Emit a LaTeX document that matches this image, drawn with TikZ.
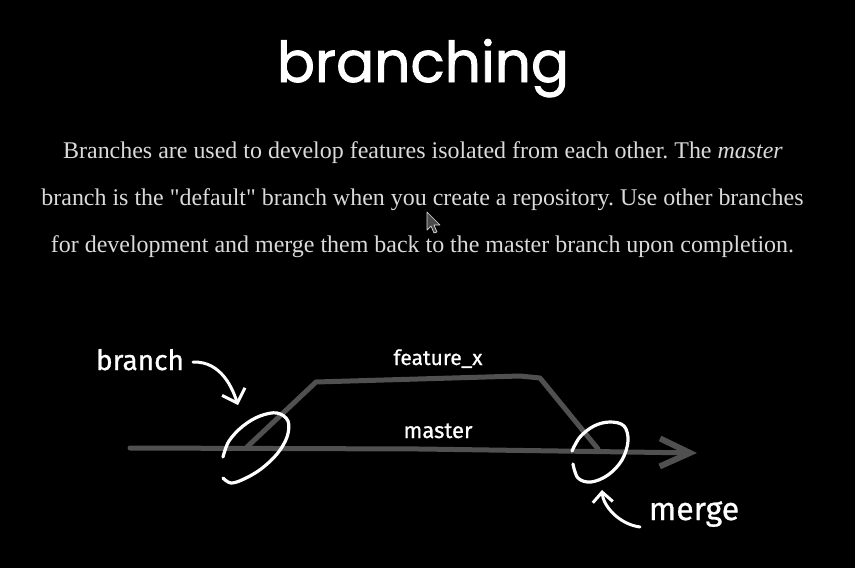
\documentclass[tikz,border=0pt]{standalone}
\usepackage{fontspec}
\setmainfont{Liberation Serif}
\newfontfamily\titlefont{Poppins}[FakeBold=1.5]
\newfontfamily\handfont{Fira Sans}[FakeBold=0.8]
\usetikzlibrary{arrows.meta}
\definecolor{bodytext}{HTML}{DADADA}
\definecolor{linegray}{HTML}{505050}
\definecolor{cursorgray}{HTML}{4A4A4A}
\tikzset{
  title/.style={text=white, inner sep=0pt, anchor=base, font=\titlefont\fontsize{56.5}{60}\selectfont},
  para/.style={text=bodytext, inner sep=0pt, anchor=base, font=\frenchspacing\fontsize{23.95}{26}\selectfont},
  hand/.style={text=white, inner sep=0pt, anchor=base, font=\handfont},
  grayline/.style={draw=linegray, line width=5pt, line cap=round, line join=round},
  whiteline/.style={draw=white, line width=3pt, line cap=round, line join=round},
  loop/.style={whiteline, line width=3.2pt},
}
\begin{document}
\begin{tikzpicture}[x=1pt,y=-1pt]
\fill[black] (0,0) rectangle (855,568);
\useasboundingbox (0,0) rectangle (855,568);

% title and paragraph
\node[title] (title) at (423,82) {branching};
\node[para] (p1) at (423,158) {Branches are used to develop features isolated from each other. The \textit{master}};
\node[para] (p2) at (422.5,205) {branch is the \textquotedbl default\textquotedbl{} branch when you create a repository. Use other branches};
\node[para] (p3) at (422.5,252) {for development and merge them back to the master branch upon completion.};

% mouse cursor
\filldraw[fill=cursorgray, draw=white!85!black, line width=0.7pt, line join=round]
  (427,212) -- (427,230) -- (431,226) -- (434,233) -- (437,232) -- (434,225) -- (440,225) -- cycle;

% master line with arrow
\coordinate (mstart) at (130,448);
\coordinate (mmid) at (420,449);
\coordinate (mend) at (697,453);
\draw[grayline, -{Straight Barb[length=30pt,width=28pt,line width=6pt]}] (mstart) -- (mmid) -- (mend);

% feature_x branch
\coordinate (fa) at (247,447);
\coordinate (fb) at (316,382);
\coordinate (fc) at (520,376);
\coordinate (fd) at (540,378);
\coordinate (fe) at (598,449);
\draw[grayline] (fa) -- (fb) -- (fc) -- (fd) -- (fe);

% hand-drawn circles
\draw[loop] plot[smooth, tension=0.6] coordinates {(223,457) (229,441) (243,426) (260,416) (277,413) (288,421) (287,437) (277,454) (261,469) (244,479) (231,483) (223,478)};
\draw[loop] plot[smooth, tension=0.6] coordinates {(572,451) (580,437) (594,426) (610,422) (624,426) (628,441) (622,460) (608,475) (591,482) (578,478) (573,464)};

% labels
\node[hand, font=\handfont\fontsize{28}{32}\selectfont] (lbranch) at (140,370) {branch};
\node[hand, font=\handfont\fontsize{21}{24}\selectfont] (lfeature) at (438,365) {feature\_x};
\node[hand, font=\handfont\fontsize{22}{24}\selectfont] (lmaster) at (438,438) {master};
\node[hand, font=\handfont\fontsize{32}{36}\selectfont] (lmerge) at (694,520) {merge};

% curved arrows
\coordinate (ba1) at (193,362);
\coordinate (ba2) at (238,405);
\draw[whiteline, -{Straight Barb[length=12pt,width=24pt,line width=3pt]}] (ba1) .. controls (222,361) and (233,390) .. (ba2);
\coordinate (ma1) at (640,527);
\coordinate (ma2) at (602,490);
\draw[whiteline, -{Straight Barb[length=10pt,width=20pt,line width=3pt]}] (ma1) .. controls (618,524) and (603,505) .. (ma2);
\end{tikzpicture}
\end{document}
